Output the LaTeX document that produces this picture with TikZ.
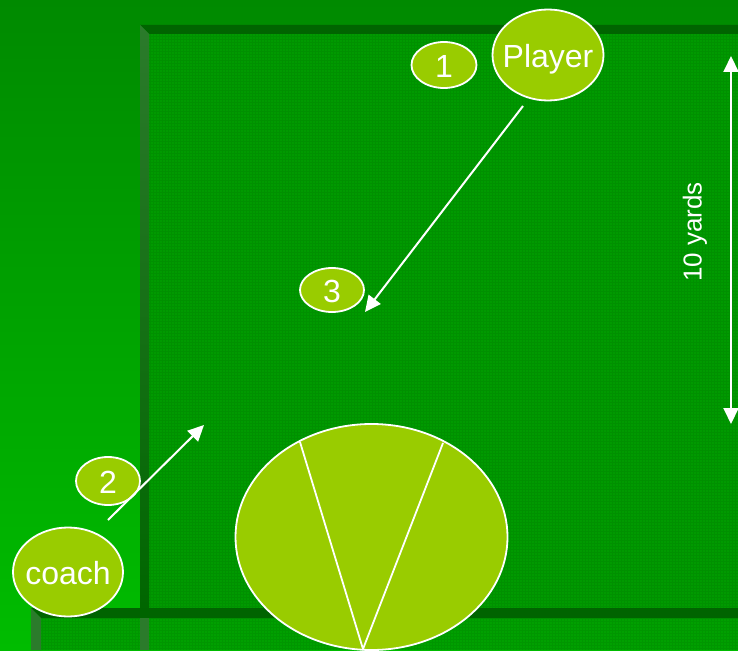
\documentclass[tikz,border=0pt]{standalone}
\usepackage{fontspec}
\setmainfont{Liberation Sans}
\usetikzlibrary{arrows.meta,shapes.geometric}
\definecolor{bgtop}{HTML}{008A00}
\definecolor{bgbot}{HTML}{00BC00}
\definecolor{fieldc}{HTML}{009A00}
\definecolor{fieldb}{HTML}{00A000}
\definecolor{bandc}{HTML}{006400}
\definecolor{stripetop}{HTML}{2B7B2B}
\definecolor{stripebot}{HTML}{006600}
\definecolor{ballc}{HTML}{99CC00}
\tikzset{
  ball/.style={ellipse, draw=white, line width=1.8pt, fill=ballc, inner sep=0pt,
    text=white, font=\fontsize{32}{32}\selectfont, text height=25pt, text depth=0pt},
  arr/.style={draw=white, line width=2pt, -{Triangle[length=16pt,width=15pt]}},
  darr/.style={draw=white, line width=2pt, {Triangle[length=16pt,width=15pt]}-{Triangle[length=16pt,width=15pt]}},
  wline/.style={draw=white, line width=1.8pt},
  texture/.style={draw=black, opacity=0.06, line width=0.6pt}
}
\begin{document}
\begin{tikzpicture}[x=1pt,y=-1pt]
\useasboundingbox (0,0) rectangle (738,650);
% background
\shade[top color=bgtop, bottom color=bgbot] (0,0) rectangle (738,650);
% field 1
\fill[fieldc] (140,25) rectangle (738,650);
\draw[texture, step=3pt] (149,34) grid (738,608);
\fill[bandc] (140,25) -- (738,25) -- (738,34) -- (149,34) -- cycle;
\shade[top color=stripetop, bottom color=stripebot] (140,25) -- (149,34) -- (149,608) -- (140,608) -- cycle;
% field 2
\fill[fieldb] (31,608) rectangle (738,650);
\draw[texture, step=3pt] (41,618) grid (738,650);
\fill[bandc] (31,608) -- (738,608) -- (738,618) -- (41,618) -- cycle;
\fill[stripetop] (31,608) -- (41,618) -- (41,650) -- (31,650) -- cycle;
\fill[stripetop] (140,618) rectangle (149,650);
% nodes
\node[ball, minimum width=65, minimum height=46] (n1) at (444,65) {\makebox[0pt]{1}};
\node[ball, minimum width=111, minimum height=91] (player) at (548,55) {\makebox[0pt]{Player}};
\node[ball, minimum width=64, minimum height=44] (n3) at (332,290) {\makebox[0pt]{3}};
\node[ball, minimum width=64, minimum height=48] (n2) at (108,481) {\makebox[0pt]{2}};
\node[ball, minimum width=110, minimum height=89] (coach) at (68,572) {\makebox[0pt]{coach}};
\node[ball, minimum width=272, minimum height=226] (big) at (371.5,537) {};
% lines in big ellipse
\coordinate (bl) at (300,442);
\coordinate (br) at (443,443);
\coordinate (bt) at (363,649);
\draw[wline] (bl) -- (bt) -- (br);
% arrows
\coordinate (pa) at (523,106);
\coordinate (pb) at (365,312);
\draw[arr] (pa) -- (pb);
\coordinate (ca) at (108,520);
\coordinate (cb) at (204,425);
\draw[arr] (ca) -- (cb);
\coordinate (ya) at (731,56);
\coordinate (yb) at (731,424);
\draw[darr] (ya) -- (yb);
\node[text=white, rotate=90, font=\fontsize{26}{26}\selectfont, inner sep=0pt] (yards) at (695,232) {10 yards};
\end{tikzpicture}
\end{document}
